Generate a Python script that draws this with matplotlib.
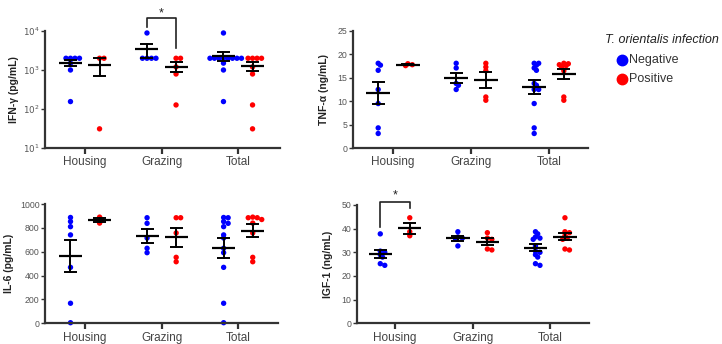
import numpy as np
import matplotlib
matplotlib.use('Agg')
import matplotlib.pyplot as plt
from matplotlib.lines import Line2D

plt.rcParams['font.family'] = ['Liberation Sans', 'DejaVu Sans']

groups = ['Housing', 'Grazing', 'Total']
status = ['Negative', 'Positive']
colors = ['#0000ff', '#ff0000']
legend_title = 'T. orientalis infection'

# IFN-gamma (pg/mL)
ifn_housing_neg = [2000, 2000, 2000, 2000, 1500, 1000, 155]
ifn_housing_pos = [2000, 2000, 31]
ifn_grazing_neg = [8900, 2000, 2000, 2000, 2000]
ifn_grazing_pos = [2000, 2000, 1200, 790, 127]

# TNF-alpha (ng/mL)
tnf_housing_neg = [17.7, 16.6, 18.1, 12.5, 9.5, 3.1, 4.3]
tnf_housing_pos = [17.6, 17.8, 18.0]
tnf_grazing_neg = [18.1, 17.1, 13.8, 12.5, 13.4]
tnf_grazing_pos = [17.3, 18.1, 10.2, 10.9, 16.5]

# IL-6 (pg/mL)
il6_housing_neg = [887, 853, 810, 741, 469, 168, 5]
il6_housing_pos = [890, 840, 870]
il6_grazing_neg = [838, 885, 592, 629, 715]
il6_grazing_pos = [885, 885, 516, 553, 757]

# IGF-1 (ng/mL)
igf_housing_neg = [37.8, 30.5, 30.0, 29.0, 28.0, 25.2, 24.5]
igf_housing_pos = [44.6, 37.0, 38.7]
igf_grazing_neg = [38.7, 36.5, 36.0, 35.5, 32.7]
igf_grazing_pos = [38.3, 36.0, 35.5, 31.0, 31.4]

panels = [
    dict(label='IFN-γ (pg/mL)', hn=ifn_housing_neg, hp=ifn_housing_pos, gn=ifn_grazing_neg, gp=ifn_grazing_pos,
         log=True, ylim=(10, 1e4), yticks=[10, 100, 1000, 10000],
         yticklabels=['$10^{1}$', '$10^{2}$', '$10^{3}$', '$10^{4}$'],
         rect=[45, 31, 280, 148], xlim=(-0.523, 2.549), labelpad=3,
         sig=dict(group=1, top=21500, left=12600, right=3600, star=29000)),
    dict(label='TNF-α (ng/mL)', hn=tnf_housing_neg, hp=tnf_housing_pos, gn=tnf_grazing_neg, gp=tnf_grazing_pos,
         log=False, ylim=(0, 25), yticks=[0, 5, 10, 15, 20, 25], yticklabels=None,
         rect=[353, 31, 588, 148], xlim=(-0.513, 2.5), labelpad=6, sig=None),
    dict(label='IL-6 (pg/mL)', hn=il6_housing_neg, hp=il6_housing_pos, gn=il6_grazing_neg, gp=il6_grazing_pos,
         log=False, ylim=(0, 1000), yticks=[0, 200, 400, 600, 800, 1000], yticklabels=None,
         rect=[45, 204, 278, 323.3], xlim=(-0.523, 2.52), labelpad=4, sig=None),
    dict(label='IGF-1 (ng/mL)', hn=igf_housing_neg, hp=igf_housing_pos, gn=igf_grazing_neg, gp=igf_grazing_pos,
         log=False, ylim=(0, 50), yticks=[0, 10, 20, 30, 40, 50], yticklabels=None,
         rect=[357, 205, 589, 323.3], xlim=(-0.49, 2.5), labelpad=6,
         sig=dict(group=0, top=51.3, left=40.7, right=48.7, star=54.0)),
]

W, H = 722, 344
fig = plt.figure(figsize=(W / 100, H / 100), dpi=100)

spine_col = '#333333'
offset = 0.19
diam_px = 5.0


def swarm(ax, xc, values, px_per_unit):
    vals = np.asarray(values, float)
    ypix = ax.transData.transform(np.column_stack([np.zeros(len(vals)), vals]))[:, 1]
    order = np.argsort(-ypix)
    placed = []
    offs = np.zeros(len(vals))
    step = diam_px * 0.45
    cands = [0.0]
    for k in range(1, 40):
        cands += [k * step, -k * step]
    mind = diam_px * 0.58
    for i in order:
        y = ypix[i]
        for c in cands:
            if all((c - px) ** 2 + (y - py) ** 2 >= mind ** 2 for px, py in placed):
                placed.append((c, y))
                offs[i] = c
                break
    return xc + offs / px_per_unit


for p in panels:
    l, t, r, b = p['rect']
    ax = fig.add_axes([l / W, 1 - b / H, (r - l) / W, (b - t) / H])
    if p['log']:
        ax.set_yscale('log')
    ax.set_ylim(*p['ylim'])
    ax.set_xlim(*p['xlim'])
    px_per_unit = (r - l) / (p['xlim'][1] - p['xlim'][0])
    data = {
        0: (p['hn'], p['hp']),
        1: (p['gn'], p['gp']),
        2: (list(p['hn']) + list(p['gn']), list(p['hp']) + list(p['gp'])),
    }
    for gi in range(3):
        for si in range(2):
            vals = np.asarray(data[gi][si], float)
            xc = gi + (-offset if si == 0 else offset)
            xs = swarm(ax, xc, vals, px_per_unit)
            ax.scatter(xs, vals, s=15, color=colors[si], edgecolors='none', zorder=2, clip_on=False)
            m = vals.mean()
            sem = vals.std(ddof=1) / np.sqrt(len(vals))
            ax.plot([xc - 0.15, xc + 0.15], [m, m], color='black', lw=1.6, zorder=3, solid_capstyle='butt')
            ax.plot([xc, xc], [m - sem, m + sem], color='black', lw=1.4, zorder=3)
            for yy in (m - sem, m + sem):
                ax.plot([xc - 0.085, xc + 0.085], [yy, yy], color='black', lw=1.4, zorder=3, solid_capstyle='butt')
    s = p['sig']
    if s is not None:
        g = s['group']
        x0, x1 = g - offset, g + offset
        ax.plot([x0, x0, x1, x1], [s['left'], s['top'], s['top'], s['right']], color='#222222', lw=1.2,
                clip_on=False, zorder=4)
        ax.text(g, s['star'], '*', ha='center', va='center', fontsize=9, color='#222222', clip_on=False)

    ax.set_yticks(p['yticks'])
    if p['yticklabels'] is not None:
        ax.set_yticklabels(p['yticklabels'])
    ax.yaxis.set_minor_locator(matplotlib.ticker.NullLocator())
    ax.set_xticks(range(3))
    ax.set_xticklabels(groups)
    for sp in ['top', 'right']:
        ax.spines[sp].set_visible(False)
    for sp in ['left', 'bottom']:
        ax.spines[sp].set_linewidth(1.6)
        ax.spines[sp].set_color(spine_col)
    ax.tick_params(axis='y', direction='out', length=3, width=1, colors=spine_col, labelsize=6.3,
                   labelcolor='#555555', pad=1)
    ax.tick_params(axis='x', direction='out', length=4, width=1.6, colors=spine_col, labelsize=8.5,
                   labelcolor='#444444', pad=2)
    ax.set_ylabel(p['label'], fontsize=7.5, fontweight='bold', color='#222222', labelpad=p['labelpad'])

# legend (manual, figure coordinates)
fig.text(605 / W, 1 - 40 / H, legend_title, fontsize=9, fontstyle='italic', color='#222222',
         ha='left', va='center')
for i, (lab, c) in enumerate(zip(status, colors)):
    yy = 1 - (60 + 18.5 * i) / H
    fig.add_artist(Line2D([622 / W], [yy], marker='o', ls='', color=c, markersize=7.5,
                          transform=fig.transFigure))
    fig.text(629 / W, yy, lab, fontsize=9, color='#333333', ha='left', va='center')

fig.savefig('out.png', dpi=100)
